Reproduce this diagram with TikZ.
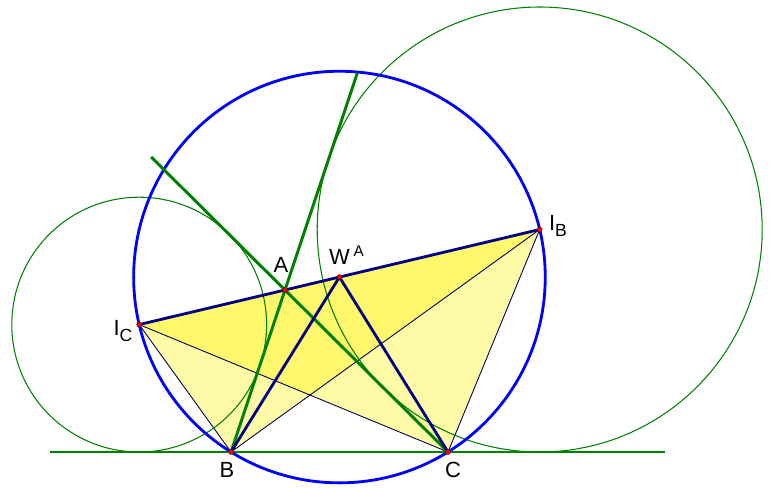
\documentclass[tikz,border=0pt]{standalone}
\usepackage{fontspec}
\setmainfont{Liberation Sans}
\usetikzlibrary{positioning, calc}

\definecolor{dgreen}{RGB}{0,128,0}
\definecolor{navy}{RGB}{0,0,128}

\begin{document}
\begin{tikzpicture}[
    x=0.02cm, y=0.02cm,
    font=\fontsize{12.5}{14}\selectfont,
    side/.style={
        draw=dgreen,
        line width=1.7pt
    },
    excircle/.style={
        draw=dgreen,
        line width=0.6pt
    },
    circum/.style={
        draw=blue,
        line width=1.6pt
    },
    chord/.style={
        draw=navy,
        line width=1.6pt
    },
    thinline/.style={
        draw=navy!60!black,
        line width=0.5pt
    },
    shade/.style={
        fill=yellow,
        fill opacity=0.35
    },
    point/.style={
        circle,
        draw=red!40!black,
        fill=red,
        inner sep=0pt,
        minimum size=2.8pt,
        line width=0.3pt
    },
    lbl/.style={
        inner sep=1pt
    }
]

\useasboundingbox (0,0) rectangle (773,487);

% Triangle and excentres
\coordinate (A) at (285,197);
\coordinate (B) at (231,35);
\coordinate (C) at (448,35);
\coordinate (IB) at (539.7,257.5);
\coordinate (IC) at (139.2,162.4);
\coordinate (W) at ($(IB)!0.5!(IC)$);

% Ends of the side lines
\coordinate (bcl) at (50,35);
\coordinate (bcr) at (665,35);
\coordinate (abtop) at ($(B)!2.34!(A)$);
\coordinate (catop) at ($(C)!1.821!(A)$);

% Shaded triangles
\fill[shade] (IC) -- (IB) -- (B) -- cycle;
\fill[shade] (IC) -- (IB) -- (C) -- cycle;

% Thin connections
\draw[thinline] (IC) -- (B);
\draw[thinline] (IC) -- (C);
\draw[thinline] (IB) -- (B);
\draw[thinline] (IB) -- (C);

% Circles
\draw[excircle] (IC) circle[radius=127.4];
\draw[excircle] (IB) circle[radius=222.5];
\draw[circum] (W) circle[radius=205.8];

% Sides of the triangle
\draw[side] (bcl) -- (bcr);
\draw[side] (B) -- (abtop);
\draw[side] (C) -- (catop);

% Chords through W
\draw[chord] (IC) -- (IB);
\draw[chord] (B) -- (W) -- (C);

% Points
\foreach \p in {A,B,C,IB,IC,W}
    \node[point] (dot\p) at (\p) {};

% Labels
\node[lbl] (labA) at (281,222) {A};
\node[lbl] (labW) at (347,232) {W\,\textsuperscript{A}};
\node[lbl] (labIC) at (123,156) {I\raisebox{-0.5ex}{\fontsize{10}{12}\selectfont C}};
\node[lbl] (labIB) at (558,261) {I\raisebox{-0.5ex}{\fontsize{10}{12}\selectfont B}};
\node[lbl] (labB) at (227,17) {B};
\node[lbl] (labC) at (453,17) {C};

\end{tikzpicture}
\end{document}
